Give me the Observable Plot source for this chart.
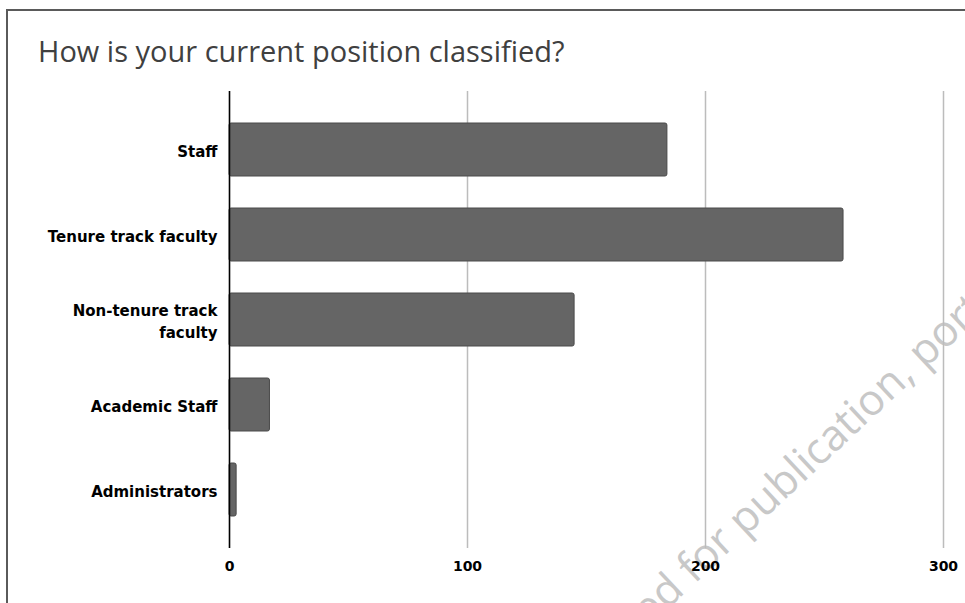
<!DOCTYPE html>
<html>
<head>
<meta charset="utf-8">
<script src="https://cdn.jsdelivr.net/npm/d3@7"></script>
<script src="https://cdn.jsdelivr.net/npm/@observablehq/plot@0.6"></script>
<style>
  html, body { margin: 0; padding: 0; background: #fff; width: 965px; height: 603px; overflow: hidden; }
  #page { position: relative; width: 965px; height: 603px; }
  #frame { position: absolute; left: 6px; top: 9px; width: 1200px; height: 800px;
           border-left: 2px solid #5a5a5a; border-top: 2px solid #5a5a5a; box-sizing: border-box; z-index: 2; pointer-events: none; }
  #watermark { position: absolute; left: 0; top: 0; z-index: 0; }
  #chart { position: absolute; left: 0; top: 0; z-index: 1; }
  #title { height: 80px; box-sizing: border-box; padding-left: 38px; padding-top: 36px;
           font-family: "Open Sans", sans-serif; font-size: 29px; line-height: 29px; color: #404040; white-space: nowrap; }
</style>
</head>
<body>
<div id="page">
  <svg id="watermark" width="965" height="603"></svg>
  <div id="chart">
    <div id="title"></div>
  </div>
  <div id="frame"></div>
</div>
<script>
const titleText = "How is your current position classified?";
const categories = ["Staff", "Tenure track faculty", "Non-tenure track faculty", "Academic Staff", "Administrators"];
const categoryLabels = ["Staff", "Tenure track faculty", "Non-tenure track\nfaculty", "Academic Staff", "Administrators"];
const counts = [184, 258, 145, 17, 3];
const xTicks = [0, 100, 200, 300];
const watermarkHead = "Accepted";
const watermarkTail = "\u00A0for publication, portions";

document.getElementById("title").textContent = titleText;

const data = categories.map((c, i) => ({category: c, count: counts[i]}));

const chart = Plot.plot({
  width: 965,
  height: 523,
  marginTop: 11,
  marginBottom: 55,
  marginLeft: 229,
  marginRight: 22,
  style: {background: "transparent", fontFamily: "DejaVu Sans", fontSize: "15px", color: "#000"},
  x: {domain: [0, 300]},
  y: {domain: categories, paddingInner: 0.38, paddingOuter: 0.36},
  marks: [
    Plot.gridX(xTicks, {stroke: "#bcbcbc", strokeOpacity: 1, strokeWidth: 1.5}),
    Plot.barX(data, {x: "count", y: "category", fill: "#656565", stroke: "#4a4a4a", strokeWidth: 1, rx: 2}),
    Plot.ruleX([0], {stroke: "#000", strokeWidth: 1.5}),
    Plot.axisX({ticks: xTicks, tickSize: 0, tickPadding: 13, label: null, fill: "#000", fontWeight: "bold", fontSize: 14}),
    Plot.axisY({tickSize: 0, tickPadding: 12, label: null, fill: "#000", fontWeight: "bold", fontSize: 15,
                lineHeight: 1.5, tickFormat: d => categoryLabels[categories.indexOf(d)]})
  ]
});
document.getElementById("chart").appendChild(chart);

// watermark
const wm = d3.select("#watermark");
const px = 686, py = 592, ang = -43;
wm.append("text").attr("x", px).attr("y", py).attr("transform", `rotate(${ang} ${px} ${py})`)
  .attr("text-anchor", "end").attr("font-family", "Open Sans").attr("font-size", 43).attr("fill", "#c8c8c8")
  .text(watermarkHead);
wm.append("text").attr("x", px).attr("y", py).attr("transform", `rotate(${ang} ${px} ${py})`)
  .attr("text-anchor", "start").attr("font-family", "Open Sans").attr("font-size", 43).attr("fill", "#c8c8c8")
  .text(watermarkTail);
</script>
</body>
</html>
